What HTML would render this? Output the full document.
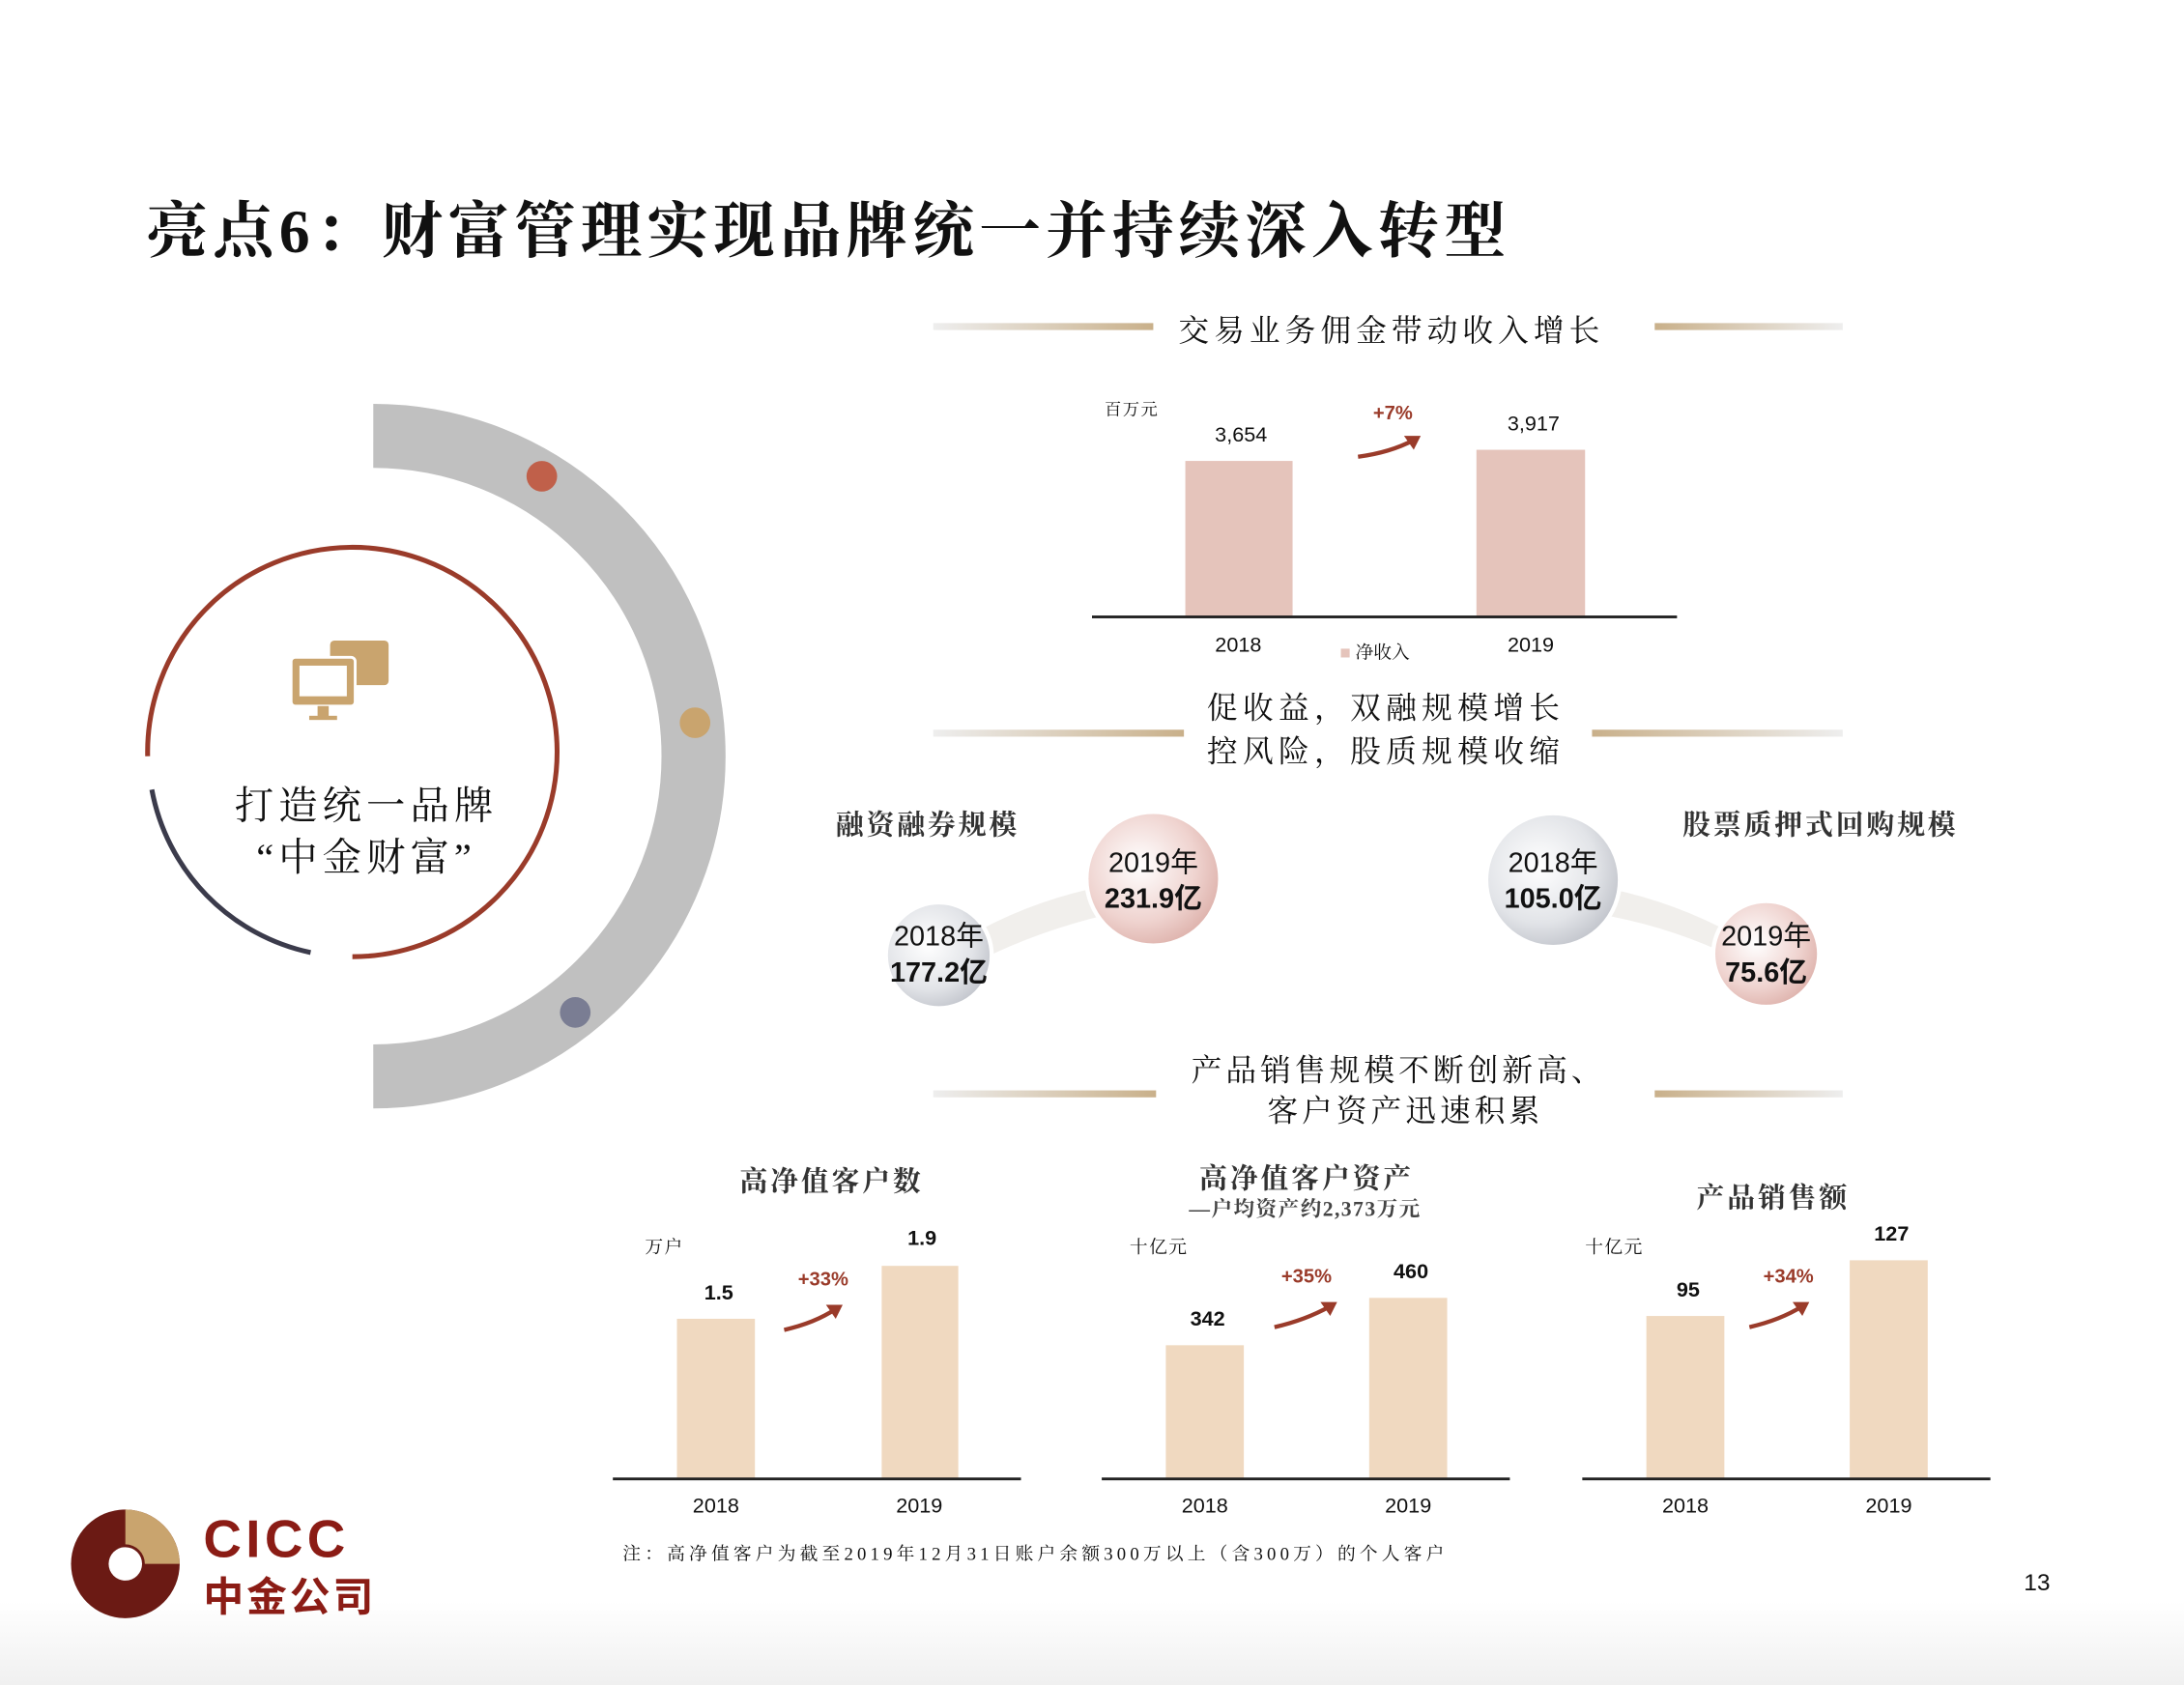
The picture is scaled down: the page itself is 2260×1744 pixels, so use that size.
<!DOCTYPE html>
<html><head><meta charset="utf-8"><style>
html,body{margin:0;padding:0;background:#fff;}
body{width:2260px;height:1744px;overflow:hidden;position:relative;}
#w{position:absolute;left:0;top:0;width:1568px;height:1210px;transform:scale(1.44133);transform-origin:0 0;background:linear-gradient(#fff 0,#fff 1150px,#f0f0f0 1210px);}
.t{position:absolute;white-space:nowrap;font-family:"Liberation Sans","Noto Sans CJK SC",sans-serif;color:#111;}
.s{font-family:"Liberation Serif","Noto Serif CJK SC",serif;}
.c{transform:translateX(-50%);}
.bar{position:absolute;}
.ax{position:absolute;height:2px;background:#222;}
.r{color:#9a3b2a;font-weight:bold;font-size:14px;}
</style></head><body><div id="w">
<div class="t s" style="left:105px;top:130px;font-size:44px;font-weight:bold;letter-spacing:3.7px;">亮点6：财富管理实现品牌统一并持续深入转型</div>

<svg width="1568" height="1210" style="position:absolute;left:0;top:0">
<defs>
<linearGradient id="gl" x1="0" x2="1"><stop offset="0" stop-color="#eee"/><stop offset="1" stop-color="#c9b08a"/></linearGradient>
<linearGradient id="gr" x1="0" x2="1"><stop offset="0" stop-color="#c9b08a"/><stop offset="1" stop-color="#eee"/></linearGradient>
<radialGradient id="pk" cx=".4" cy=".4" r=".7"><stop offset="0" stop-color="#fff"/><stop offset=".6" stop-color="#efd3cf"/><stop offset="1" stop-color="#d9a9a2"/></radialGradient>
<radialGradient id="gy" cx=".4" cy=".4" r=".7"><stop offset="0" stop-color="#fff"/><stop offset=".6" stop-color="#e2e4e8"/><stop offset="1" stop-color="#b9bcc4"/></radialGradient>
</defs>
<path d="M268 313 A230 230 0 0 1 268 773" fill="none" stroke="#c0c0c0" stroke-width="46"/>
<circle cx="389" cy="342" r="11" fill="#c0604a"/>
<circle cx="499" cy="519" r="11" fill="#c9a46e"/>
<circle cx="413" cy="727" r="11" fill="#7a7d93"/>
<path d="M106 543 A147 147 0 1 1 253 687" fill="none" stroke="#9a3b2a" stroke-width="3.5"/>
<path d="M109 567 A147 147 0 0 0 223 684" fill="none" stroke="#3b3b4b" stroke-width="3.5"/>
<rect x="237" y="460" width="42" height="32" rx="3" fill="#c9a46e"/>
<rect x="209" y="472" width="46" height="35" rx="3" fill="#c9a46e" stroke="#fff" stroke-width="2"/>
<rect x="215" y="478" width="34" height="22" fill="#fff"/>
<rect x="228" y="507" width="8" height="8" fill="#c9a46e"/><rect x="222" y="514" width="20" height="3" fill="#c9a46e"/>
<rect x="670" y="232" width="158" height="5" fill="url(#gl)"/><rect x="1188" y="232" width="135" height="5" fill="url(#gr)"/>
<rect x="670" y="524" width="180" height="5" fill="url(#gl)"/><rect x="1143" y="524" width="180" height="5" fill="url(#gr)"/>
<rect x="670" y="783" width="160" height="5" fill="url(#gl)"/><rect x="1188" y="783" width="135" height="5" fill="url(#gr)"/>
<path d="M674 686 Q740 640 828 631 L828 650 Q740 665 674 706Z" fill="#f1efec"/>
<path d="M1115 632 Q1200 640 1268 685 L1268 700 Q1200 660 1115 652Z" fill="#f1efec"/>
<circle cx="828" cy="631" r="48" fill="url(#pk)" stroke="#fff" stroke-width="3"/>
<circle cx="674" cy="686" r="38" fill="url(#gy)" stroke="#fff" stroke-width="3"/>
<circle cx="1115" cy="632" r="48" fill="url(#gy)" stroke="#fff" stroke-width="3"/>
<circle cx="1268" cy="685" r="38" fill="url(#pk)" stroke="#fff" stroke-width="3"/>
<g fill="none" stroke="#9a3b2a" stroke-width="3">
<path d="M975 328 Q998 325 1015 316"/><path d="M563 955 Q585 950 600 940"/><path d="M915 953 Q937 948 955 938"/><path d="M1256 953 Q1278 948 1294 938"/></g>
<g fill="#9a3b2a"><path d="M1020 313 L1008 313 L1015 323Z"/><path d="M605 937 L593 937 L600 947Z"/><path d="M960 935 L948 935 L955 945Z"/><path d="M1299 935 L1287 935 L1294 945Z"/></g>
<circle cx="90" cy="1123" r="39" fill="#6b1a14"/>
<path d="M90 1084 A39 39 0 0 1 129 1123 L104 1123 A14 14 0 0 0 90 1109Z" fill="#c9a46e"/>
<circle cx="90" cy="1123" r="12" fill="#fff"/>
</svg>

<div class="t s c" style="left:263px;top:557px;font-size:28px;letter-spacing:3.5px;">打造统一品牌</div>
<div class="t s c" style="left:263px;top:594px;font-size:28px;letter-spacing:3.5px;">“中金财富”</div>

<div class="t s c" style="left:999px;top:221px;font-size:22px;letter-spacing:3.5px;">交易业务佣金带动收入增长</div>
<div class="t s" style="left:793px;top:285px;font-size:12px;letter-spacing:1px;">百万元</div>
<div class="bar" style="left:851px;top:331px;width:77px;height:112px;background:#e5c4bb"></div>
<div class="bar" style="left:1060px;top:323px;width:78px;height:120px;background:#e5c4bb"></div>
<div class="ax" style="left:784px;top:442px;width:420px;"></div>
<div class="t c" style="left:891px;top:304px;font-size:15px;">3,654</div>
<div class="t c" style="left:1101px;top:296px;font-size:15px;">3,917</div>
<div class="t r c" style="left:1000px;top:288px;">+7%</div>
<div class="t c" style="left:889px;top:455px;font-size:15px;">2018</div>
<div class="t c" style="left:1099px;top:455px;font-size:15px;">2019</div>
<div class="t s" style="left:962px;top:458px;font-size:13px;"><span style="color:#e5c4bb">■</span> 净收入</div>

<div class="t s c" style="left:995px;top:492px;font-size:22px;letter-spacing:3.7px;">促收益，双融规模增长</div>
<div class="t s c" style="left:995px;top:523px;font-size:22px;letter-spacing:3.7px;">控风险，股质规模收缩</div>
<div class="t s" style="left:600px;top:576px;font-size:20px;font-weight:bold;color:#333;letter-spacing:2px;">融资融券规模</div>
<div class="t s" style="left:1208px;top:576px;font-size:20px;font-weight:bold;color:#333;letter-spacing:2px;">股票质押式回购规模</div>
<div class="t c" style="left:828px;top:607px;font-size:20px;text-align:center;line-height:26px;">2019年<br><b>231.9亿</b></div>
<div class="t c" style="left:674px;top:660px;font-size:20px;text-align:center;line-height:26px;">2018年<br><b>177.2亿</b></div>
<div class="t c" style="left:1115px;top:607px;font-size:20px;text-align:center;line-height:26px;">2018年<br><b>105.0亿</b></div>
<div class="t c" style="left:1268px;top:660px;font-size:20px;text-align:center;line-height:26px;">2019年<br><b>75.6亿</b></div>

<div class="t s c" style="left:1004px;top:752px;font-size:22px;letter-spacing:2.8px;">产品销售规模不断创新高、</div>
<div class="t s c" style="left:1009px;top:781px;font-size:22px;letter-spacing:2.8px;">客户资产迅速积累</div>

<div class="t s c" style="left:597px;top:832px;font-size:20px;font-weight:bold;color:#333;letter-spacing:2px;">高净值客户数</div>
<div class="t s" style="left:463px;top:885px;font-size:13px;letter-spacing:1px;">万户</div>
<div class="bar" style="left:486px;top:947px;width:56px;height:115px;background:#f0d9c0"></div>
<div class="bar" style="left:633px;top:909px;width:55px;height:153px;background:#f0d9c0"></div>
<div class="ax" style="left:440px;top:1061px;width:293px;"></div>
<div class="t c" style="left:516px;top:920px;font-size:15px;font-weight:bold;">1.5</div>
<div class="t c" style="left:662px;top:881px;font-size:15px;font-weight:bold;">1.9</div>
<div class="t r c" style="left:591px;top:910px;">+33%</div>
<div class="t c" style="left:514px;top:1073px;font-size:15px;">2018</div>
<div class="t c" style="left:660px;top:1073px;font-size:15px;">2019</div>

<div class="t s c" style="left:938px;top:830px;font-size:20px;font-weight:bold;color:#333;letter-spacing:2px;">高净值客户资产</div>
<div class="t s c" style="left:937px;top:857px;font-size:15px;font-weight:bold;color:#444;letter-spacing:1px;">—户均资产约2,373万元</div>
<div class="t s" style="left:811px;top:885px;font-size:13px;letter-spacing:1px;">十亿元</div>
<div class="bar" style="left:837px;top:966px;width:56px;height:96px;background:#f0d9c0"></div>
<div class="bar" style="left:983px;top:932px;width:56px;height:130px;background:#f0d9c0"></div>
<div class="ax" style="left:791px;top:1061px;width:293px;"></div>
<div class="t c" style="left:867px;top:939px;font-size:15px;font-weight:bold;">342</div>
<div class="t c" style="left:1013px;top:905px;font-size:15px;font-weight:bold;">460</div>
<div class="t r c" style="left:938px;top:908px;">+35%</div>
<div class="t c" style="left:865px;top:1073px;font-size:15px;">2018</div>
<div class="t c" style="left:1011px;top:1073px;font-size:15px;">2019</div>

<div class="t s c" style="left:1273px;top:844px;font-size:20px;font-weight:bold;color:#333;letter-spacing:2px;">产品销售额</div>
<div class="t s" style="left:1138px;top:885px;font-size:13px;letter-spacing:1px;">十亿元</div>
<div class="bar" style="left:1182px;top:945px;width:56px;height:117px;background:#f0d9c0"></div>
<div class="bar" style="left:1328px;top:905px;width:56px;height:157px;background:#f0d9c0"></div>
<div class="ax" style="left:1136px;top:1061px;width:293px;"></div>
<div class="t c" style="left:1212px;top:918px;font-size:15px;font-weight:bold;">95</div>
<div class="t c" style="left:1358px;top:878px;font-size:15px;font-weight:bold;">127</div>
<div class="t r c" style="left:1284px;top:908px;">+34%</div>
<div class="t c" style="left:1210px;top:1073px;font-size:15px;">2018</div>
<div class="t c" style="left:1356px;top:1073px;font-size:15px;">2019</div>

<div class="t s" style="left:447px;top:1105px;font-size:13px;letter-spacing:2.9px;">注：高净值客户为截至2019年12月31日账户余额300万以上（含300万）的个人客户</div>
<div class="t" style="left:1453px;top:1127px;font-size:17px;">13</div>
<div class="t" style="left:146px;top:1085px;font-size:38px;font-weight:bold;color:#8b1c15;letter-spacing:3px;">CICC</div>
<div class="t" style="left:146px;top:1124px;font-size:29px;font-weight:bold;color:#8b1c15;letter-spacing:2px;">中金公司</div>
</div></body></html>
